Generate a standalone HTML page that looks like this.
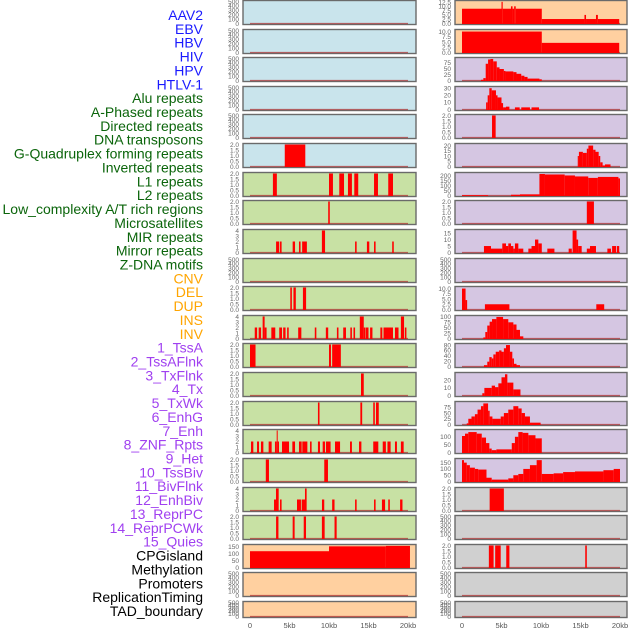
<!DOCTYPE html>
<html><head><meta charset="utf-8"><style>
body{margin:0;background:#fff;}
svg{display:block;font-family:"Liberation Sans",sans-serif;}
</style></head><body>
<svg id="chart" width="630" height="630" viewBox="0 0 630 630" xmlns="http://www.w3.org/2000/svg"></svg>
<script>
// ---- data ----
const trackLabels = ["AAV2","EBV","HBV","HIV","HPV","HTLV-1","Alu repeats","A-Phased repeats","Directed repeats","DNA transposons","G-Quadruplex forming repeats","Inverted repeats","L1 repeats","L2 repeats","Low_complexity A/T rich regions","Microsatellites","MIR repeats","Mirror repeats","Z-DNA motifs","CNV","DEL","DUP","INS","INV","1_TssA","2_TssAFlnk","3_TxFlnk","4_Tx","5_TxWk","6_EnhG","7_Enh","8_ZNF_Rpts","9_Het","10_TssBiv","11_BivFlnk","12_EnhBiv","13_ReprPC","14_ReprPCWk","15_Quies","CPGisland","Methylation","Promoters","ReplicationTiming","TAD_boundary"];
const labelGroups = [0,0,0,0,0,0,1,1,1,1,1,1,1,1,1,1,1,1,1,2,2,2,2,2,3,3,3,3,3,3,3,3,3,3,3,3,3,3,3,4,4,4,4,4];
const xTickValues = [0,5,10,15,20];
const xTickLabels = ["0","5kb","10kb","15kb","20kb"];
const T500 = [0,100,200,300,400,500];
const T2 = [0,0.5,1,1.5,2];
const T4 = [0,1,2,3,4];
// left column panels
const leftMax = [500,500,500,500,500,2,2,2,4,500,2,4,2,2,2,4,2,4,2,158,500,500];
const leftTicks = [T500,T500,T500,T500,T500,T2,T2,T2,T4,T500,T2,T4,T2,T2,T2,T4,T2,T4,T2,[0,50,100,150],T500,T500];
const leftBars = [
 [],[],[],[],[],
 [[4.4,7.0,2]],
 [[2.9,3.4,2],[10,10.5,2],[11.3,11.9,2],[12.4,12.9,2],[13.2,13.7,2],[15.7,16.2,2],[17.5,18.1,2]],
 [[9.9,10.1,2]],
 [[3.3,3.7,2],[3.8,4.0,2],[5.4,5.7,2],[6.2,6.4,2],[6.6,7.2,2],[9.1,9.5,4],[13.3,13.5,2],[14.8,15.1,2],[15.7,15.9,2],[18,18.2,2]],
 [],
 [[5.1,5.3,2],[5.5,5.8,2],[6.7,7.1,2]],
 [[0.6,0.9,2],[1.1,1.4,2],[1.6,1.85,4],[1.85,2.1,2],[2.7,3.2,2],[3.7,4.05,2],[4.2,4.5,2],[4.7,4.9,2],[6.1,6.5,2],[8.2,8.4,2],[9.6,9.9,2],[11,11.2,2],[11.8,12.15,2],[12.7,12.9,2],[13.1,13.3,2],[13.9,14.4,4],[14.4,14.6,2],[14.65,15,2],[15.2,15.5,2],[16.5,16.75,2],[16.9,18.1,2],[18.35,18.8,2],[19.1,19.5,4],[19.6,19.8,2]],
 [[0,0.7,2],[10,10.25,2],[10.4,11.5,2]],
 [[14.05,14.4,2]],
 [[8.6,8.8,2],[13.97,14.2,2],[15.6,15.8,2],[15.95,16.3,2]],
 [[0.13,0.42,2],[0.89,1.14,2],[1.39,1.69,2],[2.36,2.74,2],[3.16,3.38,2],[3.38,3.5,4],[3.5,3.67,2],[4.05,4.94,2],[5.36,5.7,2],[6.2,6.54,2],[6.62,7.26,2],[7.6,7.8,2],[8.6,8.86,2],[9.2,9.5,2],[9.62,10.2,2],[10.76,11.4,2],[12.66,12.9,2],[13.8,14.1,2],[15.6,16.24,2],[16.8,17.2,2],[17.4,17.8,2],[18.35,18.6,2],[19.1,19.45,2]],
 [[2.0,2.4,2],[9.4,9.87,2]],
 [[3.04,3.29,2],[3.29,3.63,4],[3.8,4.0,2],[5.95,6.45,2],[6.54,6.96,2],[6.96,7.17,4],[9.11,9.4,2],[10.4,10.7,2],[13.3,13.5,2],[15.7,15.9,2],[16.7,17.1,2],[17.5,17.7,2],[19.0,19.3,2]],
 [[3.3,3.6,2],[5.4,5.65,2],[6.8,7.09,2],[9.1,9.45,2],[10.7,10.97,2]],
 [[0,10,117],[10,17.2,152],[17.2,20.25,155]],
 [],[]
];
// right column panels
const rightMax = [12.8,10.5,92,31,2,21,225,2,17,500,10.5,102,82,29,96,140,175,2,500,2,500,500];
const rightTicks = [[0,2.5,5,7.5,10,12.5],[0,2.5,5,7.5,10],[0,25,50,75],[0,10,20,30],T2,[0,5,10,15,20],[0,50,100,150,200],T2,[0,5,10,15],T500,[0,2.5,5,7.5,10],[0,25,50,75,100],[0,20,40,60,80],[0,10,20],[0,25,50,75],[0,50,100],[0,50,100,150],T2,T500,T2,T500,T500];
const rightBars = [
 [[0,5.0,8.6],[5.0,5.15,12.6],[5.15,6.2,8.6],[6.2,6.4,10],[6.4,6.6,8.6],[6.6,6.8,10],[6.8,10.1,8.6],[10.1,15.5,2.6],[15.5,15.7,5],[15.7,16.96,2.6],[16.96,17.2,5],[17.2,19.9,2.6]],
 [[0,10.1,10],[10.1,19.9,4.6]],
 [[2.4,2.7,3],[2.7,3.0,10],[3.0,3.3,70],[3.3,3.6,88],[3.6,3.95,90],[3.95,4.4,80],[4.4,4.75,55],[4.75,5.3,48],[5.3,5.5,40],[5.5,6.5,38],[6.5,6.9,35],[6.9,7.5,28],[7.5,7.9,20],[7.9,8.3,15],[8.3,9.8,8],[9.8,10.1,5]],
 [[3.05,3.25,10],[3.25,3.46,20],[3.46,3.76,30],[3.76,4.3,27],[4.3,4.5,20],[4.5,5.0,17],[5.0,5.2,9],[5.2,5.57,3],[5.57,6.0,4],[6.7,7.3,3],[7.5,8.6,3],[8.8,9.75,3]],
 [[3.8,4.26,2]],
 [[14.65,14.8,10],[14.8,15.3,14],[15.3,15.8,13],[15.8,16.0,17],[16.0,16.6,20],[16.6,16.9,16],[16.9,17.3,14],[17.3,17.5,10],[17.5,17.8,4],[17.8,18.1,1],[18.1,18.8,2]],
 [[0,3.3,3],[6.2,7.34,8],[7.34,9.8,12],[9.8,10.5,220],[10.5,13.0,215],[13.0,14.3,205],[14.3,15.98,195],[15.98,17.2,180],[17.2,19.8,190],[19.8,20.0,175]],
 [[15.8,16.7,2]],
 [[2.78,3.67,5],[3.67,5.1,3],[5.1,5.57,7],[5.57,5.86,5],[5.86,6.2,7],[6.2,6.5,5],[6.5,6.7,3],[6.7,7.13,7],[7.13,7.76,3],[8.4,8.8,3],[8.8,9.24,5],[9.24,9.66,10],[9.66,10.1,7],[10.8,11.7,3],[13.5,13.9,3],[14.0,14.5,17],[14.5,14.7,10],[14.7,15.15,5],[15.8,16.2,3],[16.2,16.96,5],[18.4,18.86,3],[19.0,19.5,5],[19.6,19.9,5]],
 [],
 [[0,0.45,10],[0.45,0.65,4.5],[2.9,6.0,2.5],[17.0,18.0,2.5]],
 [[2.7,2.95,5],[2.95,3.2,30],[3.2,3.5,60],[3.5,3.8,78],[3.8,4.35,90],[4.35,5.2,100],[5.2,5.86,90],[5.86,6.5,75],[6.5,6.9,65],[6.9,7.34,40],[7.34,7.76,10]],
 [[2.78,3.2,5],[3.2,3.46,18],[3.46,3.76,35],[3.76,3.97,30],[3.97,4.27,45],[4.27,4.7,55],[4.7,5.0,60],[5.0,5.3,55],[5.3,5.57,68],[5.57,6.07,80],[6.07,6.37,55],[6.37,6.58,30],[6.58,6.9,10],[6.9,7.34,5]],
 [[2.57,2.83,3],[2.83,3.76,10],[3.76,4.18,13],[4.18,4.6,11],[4.6,5.0,16],[5.0,5.44,24],[5.44,5.74,28],[5.74,6.07,17],[6.07,6.5,17],[6.5,6.9,8],[6.9,7.4,8]],
 [[0.6,0.8,5],[0.8,1.2,25],[1.2,1.63,35],[1.63,1.97,45],[1.97,2.4,65],[2.4,2.7,80],[2.7,3.3,92],[3.3,3.5,60],[3.5,3.85,35],[3.85,4.9,25],[4.9,5.3,35],[5.3,5.86,50],[5.86,6.5,65],[6.5,7.13,80],[7.13,7.55,70],[7.55,7.97,50],[7.97,8.6,35],[8.6,9.95,8]],
 [[0,0.38,105],[0.38,0.8,120],[0.8,1.86,130],[1.86,2.5,120],[2.5,3.04,95],[3.04,3.46,60],[3.46,3.76,25],[3.76,4.35,15],[4.35,6.3,20],[6.3,6.7,60],[6.7,7.13,100],[7.13,7.67,130],[7.67,8.4,125],[8.4,9.3,110],[9.3,10.1,90]],
 [[0,0.25,170],[0.25,0.6,150],[0.6,1.0,130],[1.0,1.63,110],[1.63,2.05,100],[2.05,3.1,95],[3.1,3.76,30],[3.76,5.86,15],[5.86,6.5,25],[6.5,7.13,50],[7.13,7.76,60],[7.76,8.6,100],[8.6,9.45,130],[9.45,10.1,170],[10.1,11.6,60],[11.6,12.8,65],[12.8,14.3,75],[14.3,17.9,80],[17.9,19.2,90],[19.2,20.0,100]],
 [[3.5,5.3,2]],
 [],
 [[3.4,4.0,2],[4.2,4.9,2],[5.6,6.0,2],[15.6,15.8,2]],
 [],[]
];
const leftColors = ["#c9e4ec","#c9e4ec","#c9e4ec","#c9e4ec","#c9e4ec","#c9e4ec","#c8e1a4","#c8e1a4","#c8e1a4","#c8e1a4","#c8e1a4","#c8e1a4","#c8e1a4","#c8e1a4","#c8e1a4","#c8e1a4","#c8e1a4","#c8e1a4","#c8e1a4","#ffd0a0","#ffd0a0","#ffd0a0"];
const rightColors = ["#ffd0a0","#ffd0a0","#d5c6e2","#d5c6e2","#d5c6e2","#d5c6e2","#d5c6e2","#d5c6e2","#d5c6e2","#d5c6e2","#d5c6e2","#d5c6e2","#d5c6e2","#d5c6e2","#d5c6e2","#d5c6e2","#d5c6e2","#d0d0d0","#d0d0d0","#d0d0d0","#d0d0d0","#d0d0d0"];

// ---- layout ----
const NS = "http://www.w3.org/2000/svg";
const svg = document.getElementById("chart");
const groupColors = ["#1a1aff","#0b650b","#ffa500","#a040f0","#000000"];
const rowTops = [];
for (let i = 0; i < 22; i++) rowTops.push(Math.round(i * 28.62));
function rowH(i){ return i === 21 ? 17 : 25; }
const cols = [{x0:243,x1:416,kb0:250,perKb:7.9,bars:leftBars,max:leftMax,ticks:leftTicks,colors:leftColors,name:"left"},
              {x0:455,x1:627,kb0:462,perKb:7.9,bars:rightBars,max:rightMax,ticks:rightTicks,colors:rightColors,name:"right"}];
function mk(tag, attrs){ const e = document.createElementNS(NS, tag); for (const k in attrs) e.setAttribute(k, attrs[k]); svg.appendChild(e); return e; }

// labels
trackLabels.forEach((t, i) => {
  const el = mk("text", {x:203, y:(15 + i*13.86 + 5).toFixed(1), "text-anchor":"end", "font-size":"14", fill:groupColors[labelGroups[i]]});
  el.textContent = t;
  
  
});

cols.forEach(c => {
  const xs = v => c.kb0 + v * c.perKb;
  for (let r = 0; r < 22; r++) {
    const top = rowTops[r], h = rowH(r), bottom = top + h;
    const ys = v => (bottom - 1.5) - v / c.max[r] * (h - 3);
    const bg = mk("rect", {x:c.x0, y:top+0.5, width:c.x1-c.x0, height:h-1, fill:c.colors[r], stroke:"#6a6a6a", "stroke-width":"1.4"});
    
    
    // baseline
    const bl = mk("line", {x1:xs(0), x2:xs(20), y1:ys(0), y2:ys(0), stroke:"#b03030", "stroke-width":"1.2", opacity:"0.7"});
    
    
    c.bars[r].forEach(b => {
      const y = ys(b[2]);
      const rect = mk("rect", {x:xs(b[0]).toFixed(2), y:y.toFixed(2), width:Math.max(1, xs(b[1]) - xs(b[0])).toFixed(2), height:(ys(0) - y + 0.5).toFixed(2), fill:"#ff0000"});
      
      
    });
    c.ticks[r].forEach(tv => {
      const lbl = Number.isInteger(tv) && c.max[r] > 4.5 ? String(tv) : (c.max[r] <= 2.5 ? tv.toFixed(1) : (Number.isInteger(tv) ? String(tv) : tv.toFixed(1)));
      const tx = mk("text", {x:c.x0 - 4, y:(ys(tv) + 2.3).toFixed(1), "text-anchor":"end", "font-size":"6.5", fill:"#666"});
      tx.textContent = (c.max[r] > 2.5 && c.max[r] < 15 && !Number.isInteger(c.max[r]) && c.ticks[r].some(v=>!Number.isInteger(v))) ? tv.toFixed(1) : lbl;
      
      
    });
  }
  xTickValues.forEach((v, i) => {
    const t = mk("text", {x:xs(v), y:628, "text-anchor":"middle", "font-size":"7.5", fill:"#555"});
    t.textContent = xTickLabels[i];
    
    
  });
});
</script>
</body></html>
